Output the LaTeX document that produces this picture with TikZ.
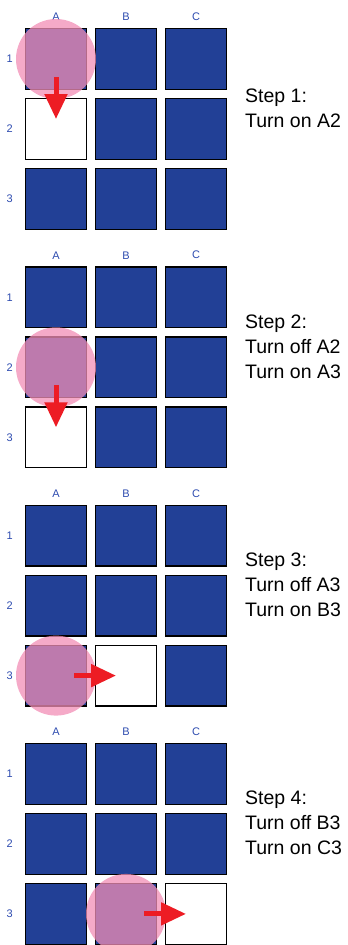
\documentclass[tikz,border=0pt]{standalone}
\usepackage{fontspec}
\setmainfont{Liberation Sans}
\usetikzlibrary{positioning, arrows.meta, calc}

\definecolor{cellblue}{RGB}{34,64,150}
\definecolor{labelblue}{RGB}{45,75,175}
\definecolor{spotpink}{RGB}{242,142,182}
\definecolor{arrowred}{RGB}{237,28,36}

\begin{document}
\begin{tikzpicture}[
      x=1pt, y=-1pt,
      cell/.style={draw, line width=1.4pt, fill=cellblue, minimum size=60.6pt, inner sep=0pt},
      lit/.style={cell, fill=white},
      spot/.style={circle, fill=spotpink, fill opacity=0.75, minimum size=80pt, inner sep=0pt},
      lbl/.style={text=labelblue, inner sep=0pt, font=\fontsize{11}{13}\selectfont},
      steptext/.style={align=left, inner sep=0pt, font=\fontsize{19.5}{25}\selectfont},
      arr/.style={arrowred, line width=5pt, -{Triangle[length=25pt, width=22pt]}}
    ]
    \useasboundingbox (0,0) rectangle (348,945);

    \foreach \p/\lit/\spot/\txt [evaluate=\p as \off using (\p-1)*238.3] in {
        1/A2/A1/{Step 1:\\Turn on A2},
        2/A3/A2/{Step 2:\\Turn off A2\\Turn on A3},
        3/B3/A3/{Step 3:\\Turn off A3\\Turn on B3},
        4/C3/B3/{Step 4:\\Turn off B3\\Turn on C3}} {
      % grid of cells, the lit one white
      \foreach \c [count=\i] in {A,B,C} {
        \foreach \r in {1,2,3} {
          \edef\cur{\c\r}\edef\on{\lit}
          \ifx\cur\on
            \node[lit] (p\p-\c\r) at (56+70*\i-70, \off+59+70*\r-70) {};
          \else
            \node[cell] (p\p-\c\r) at (56+70*\i-70, \off+59+70*\r-70) {};
          \fi
        }
        \node[lbl, above=7pt of p\p-\c1] (col\p-\c) {\c};
      }
      \foreach \r in {1,2,3}
        \node[lbl, left=12pt of p\p-A\r] (row\p-\r) {\r};

      \node[spot] (touch\p) at (p\p-\spot) {};
      \draw[arr] ($(p\p-\spot)!18pt!(p\p-\lit)$) -- ($(p\p-\lit)!10pt!(p\p-\spot)$);

      \node[steptext, right=18pt of p\p-C2, yshift=21pt] (step\p) {\txt};
    }
  \end{tikzpicture}
\end{document}
